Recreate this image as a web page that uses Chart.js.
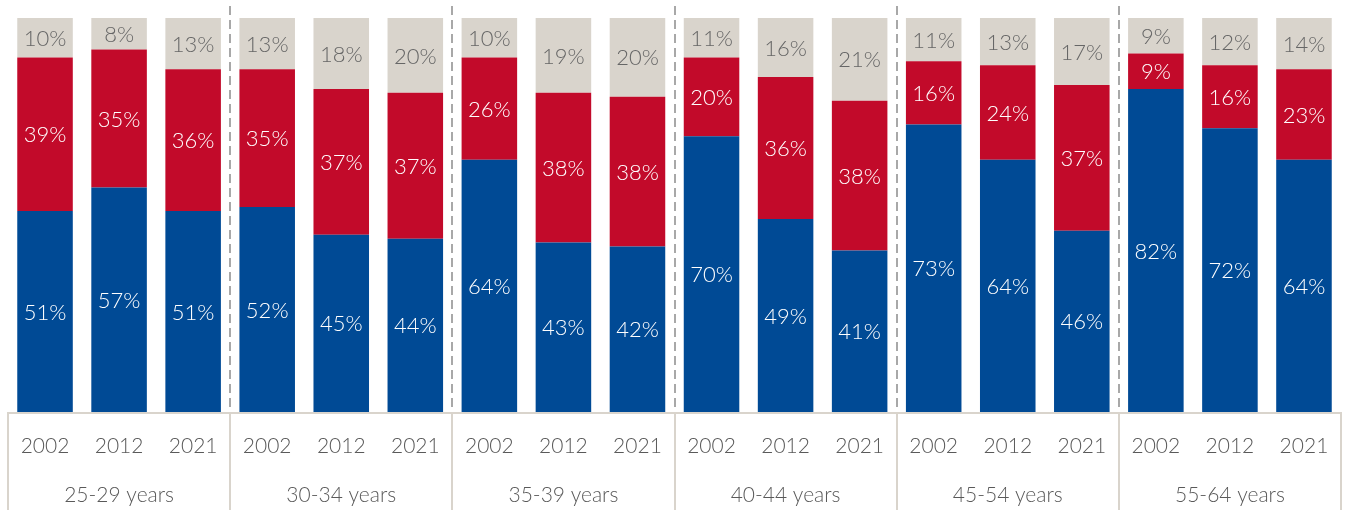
<!DOCTYPE html>
<html>
<head>
<meta charset="utf-8">
<title>Share by age group</title>
<script src="https://cdn.jsdelivr.net/npm/chart.js@4/dist/chart.umd.min.js"></script>
<style>
    html, body { margin: 0; padding: 0; background: #ffffff; }
    #chart { display: block; }
</style>
</head>
<body>
<canvas id="chart" width="1345" height="510"></canvas>
<script>
    // ---------------------------------------------------------
    // Data
    // ---------------------------------------------------------
    const groups = ["25-29 years", "30-34 years", "35-39 years", "40-44 years", "45-54 years", "55-64 years"];
    const years = ["2002", "2012", "2021"];

    const blueShare = [51, 57, 51, 52, 45, 44, 64, 43, 42, 70, 49, 41, 73, 64, 46, 82, 72, 64];
    const redShare  = [39, 35, 36, 35, 37, 37, 26, 38, 38, 20, 36, 38, 16, 24, 37,  9, 16, 23];
    const greyShare = [10,  8, 13, 13, 18, 20, 10, 19, 20, 11, 16, 21, 11, 13, 17,  9, 12, 14];

    // one category per bar: each group repeats the three years
    const labels = [];
    groups.forEach(() => years.forEach((y) => labels.push(y)));

    const BLUE = "#004a95";
    const RED = "#c20a2a";
    const GREY = "#d9d4cc";
    const FONT = "Lato, 'Open Sans', sans-serif";

    // ---------------------------------------------------------
    // Segment value labels, centred in each stacked piece
    // ---------------------------------------------------------
    const segmentLabels = {
        id: "segmentLabels",
        afterDatasetsDraw(chart) {
            const ctx = chart.ctx;
            const area = chart.chartArea;
            ctx.save();
            ctx.font = "300 22px " + FONT;
            ctx.textAlign = "center";
            ctx.textBaseline = "middle";
            chart.data.datasets.forEach((ds, di) => {
                const meta = chart.getDatasetMeta(di);
                meta.data.forEach((bar, i) => {
                    const top = Math.max(bar.y, area.top);
                    const bottom = Math.min(bar.base, area.bottom);
                    ctx.fillStyle = ds.labelColor;
                    ctx.fillText(ds.data[i] + "%", bar.x, (top + bottom) / 2 + 1);
                });
            });
            ctx.restore();
        }
    };

    // ---------------------------------------------------------
    // Group separators, axis box and age group names
    // ---------------------------------------------------------
    const groupFrame = {
        id: "groupFrame",
        afterDraw(chart) {
            const ctx = chart.ctx;
            const area = chart.chartArea;
            const x = chart.scales.x;
            const step = x.getPixelForValue(1) - x.getPixelForValue(0);
            const boxTop = area.bottom + 1;
            const boxBottom = chart.height;
            const left = area.left;
            const right = area.right;

            ctx.save();

            // dashed dividers between groups, above the axis
            ctx.strokeStyle = "#a8a8a8";
            ctx.lineWidth = 2;
            ctx.setLineDash([9, 5]);
            for (let g = 1; g < groups.length; g++) {
                const sx = Math.round(x.getPixelForValue(g * 3) - step / 2);
                ctx.beginPath();
                ctx.moveTo(sx, 6);
                ctx.lineTo(sx, boxTop);
                ctx.stroke();
            }

            // solid frame round the axis labels
            ctx.setLineDash([]);
            ctx.strokeStyle = GREY;
            ctx.beginPath();
            ctx.moveTo(left, boxBottom);
            ctx.lineTo(left, boxTop);
            ctx.lineTo(right, boxTop);
            ctx.lineTo(right, boxBottom);
            for (let g = 1; g < groups.length; g++) {
                const sx = Math.round(x.getPixelForValue(g * 3) - step / 2);
                ctx.moveTo(sx, boxTop);
                ctx.lineTo(sx, boxBottom);
            }
            ctx.stroke();

            // age group names
            ctx.fillStyle = "#595959";
            ctx.font = "300 21px " + FONT;
            ctx.textAlign = "center";
            ctx.textBaseline = "middle";
            groups.forEach((name, g) => {
                const cx = x.getPixelForValue(g * 3 + 1);
                ctx.fillText(name, cx, 495);
            });

            ctx.restore();
        }
    };

    // ---------------------------------------------------------
    // Chart
    // ---------------------------------------------------------
    function makeSet(label, data, color, labelColor) {
        return {
            label: label,
            data: data,
            backgroundColor: color,
            borderWidth: 0,
            labelColor: labelColor,
            clip: 0,
            categoryPercentage: 1,
            barPercentage: 0.75
        };
    }

    new Chart(document.getElementById("chart"), {
        type: "bar",
        data: {
            labels: labels,
            datasets: [
                makeSet("Blue", blueShare, BLUE, "#ffffff"),
                makeSet("Red", redShare, RED, "#ffffff"),
                makeSet("Grey", greyShare, GREY, "#666666")
            ]
        },
        options: {
            responsive: false,
            animation: false,
            layout: { padding: { left: 8, right: 4, top: 18, bottom: 0 } },
            plugins: {
                legend: { display: false },
                tooltip: { enabled: false }
            },
            scales: {
                x: {
                    stacked: true,
                    grid: { display: false, drawTicks: false },
                    border: { display: false },
                    ticks: {
                        color: "#595959",
                        font: { family: FONT, size: 21, weight: 300 },
                        padding: 22,
                        maxRotation: 0,
                        autoSkip: false
                    },
                    afterFit(scale) {
                        scale.height = 98;
                        // year labels sit well inside the bars, no edge room needed
                        scale.paddingLeft = 0;
                        scale.paddingRight = 0;
                    }
                },
                y: {
                    stacked: true,
                    display: false,
                    min: 0,
                    max: 100
                }
            }
        },
        plugins: [segmentLabels, groupFrame]
    });
</script>
</body>
</html>
